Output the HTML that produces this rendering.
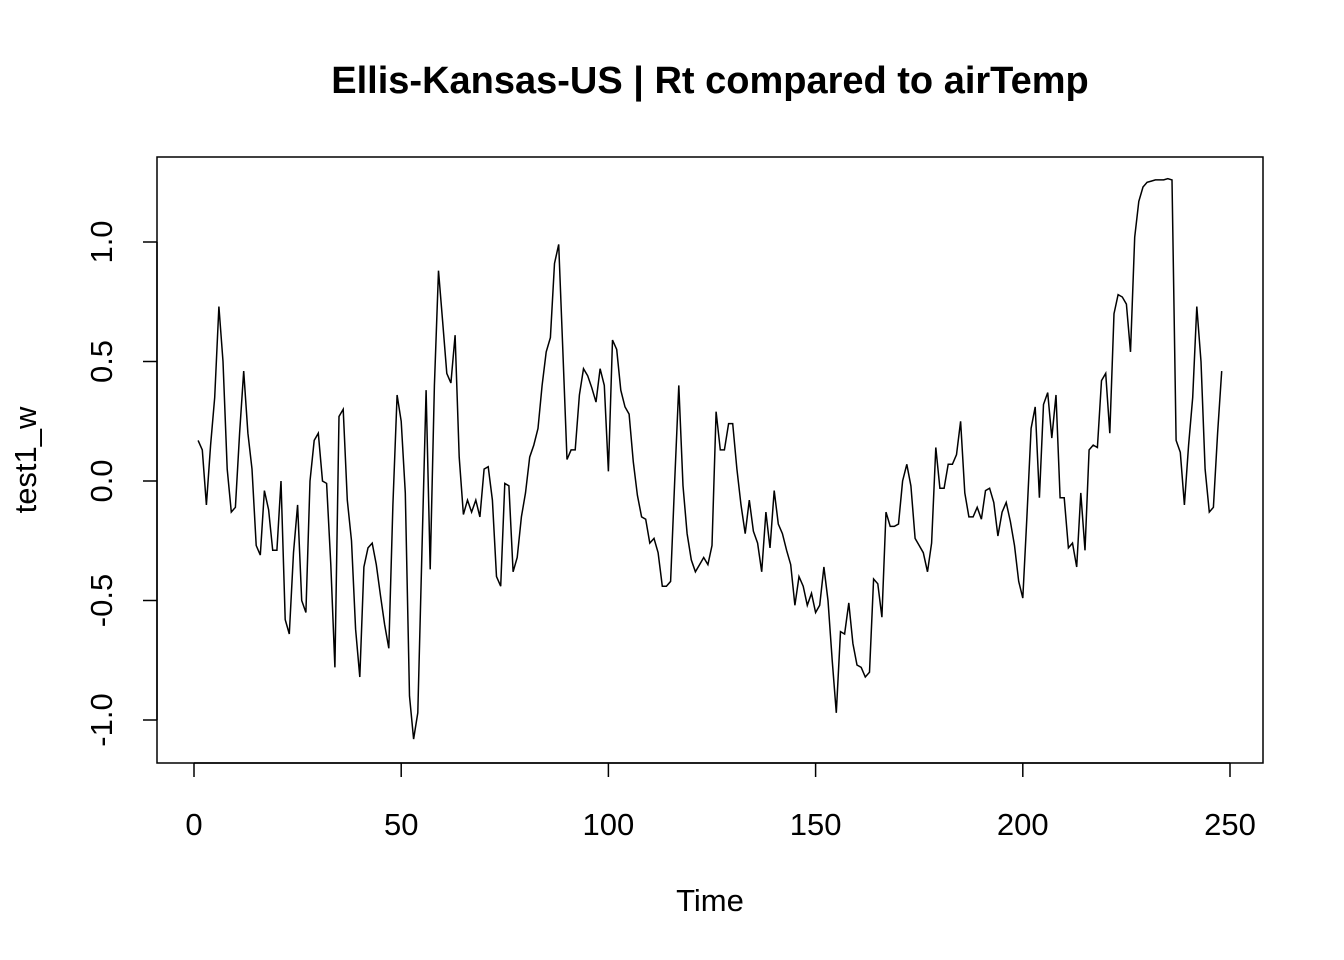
<!DOCTYPE html>
<html><head><meta charset="utf-8"><style>
body{margin:0;background:#fff}
svg{display:block;font-family:"Liberation Sans",Arial,sans-serif}
</style></head><body>
<svg id="chart" width="1344" height="960">
<text x="710" y="93" text-anchor="middle" font-size="38" font-weight="bold">Ellis-Kansas-US | Rt compared to airTemp</text>
<rect x="157" y="157" width="1106" height="606" fill="none" stroke="#000" stroke-width="1.5"/>
<text x="710" y="911" text-anchor="middle" font-size="31">Time</text>
<text transform="translate(36,460) rotate(-90)" text-anchor="middle" font-size="31">test1_w</text>
<g id="axes"></g>
<path id="line" fill="none" stroke="#000" stroke-width="1.5"/>
</svg>
<script>
const xTicks=[0,50,100,150,200,250];
const yTicks=[-1.0,-0.5,0.0,0.5,1.0];
const yTickLabels=["-1.0","-0.5","0.0","0.5","1.0"];
const values=[0.17,0.13,-0.10,0.15,0.35,0.73,0.50,0.05,-0.13,-0.11,0.20,0.46,0.20,0.05,-0.27,-0.31,-0.04,-0.12,-0.29,-0.29,
0.00,-0.58,-0.64,-0.30,-0.10,-0.50,-0.55,0.00,0.17,0.20,0.00,-0.01,-0.35,-0.78,0.27,0.30,-0.08,-0.25,-0.62,-0.82,
-0.36,-0.28,-0.26,-0.35,-0.48,-0.60,-0.70,-0.10,0.36,0.25,-0.05,-0.90,-1.08,-0.97,-0.30,0.38,-0.37,0.40,0.88,0.67,
0.45,0.41,0.61,0.10,-0.14,-0.08,-0.13,-0.08,-0.15,0.05,0.06,-0.08,-0.40,-0.44,-0.01,-0.02,-0.38,-0.32,-0.15,-0.05,
0.10,0.15,0.22,0.40,0.54,0.60,0.91,0.99,0.55,0.09,0.13,0.13,0.36,0.47,0.44,0.39,0.33,0.47,0.40,0.04,
0.59,0.55,0.38,0.31,0.28,0.08,-0.06,-0.15,-0.16,-0.26,-0.24,-0.30,-0.44,-0.44,-0.42,0.00,0.40,-0.02,-0.22,-0.33,
-0.38,-0.35,-0.32,-0.35,-0.27,0.29,0.13,0.13,0.24,0.24,0.05,-0.10,-0.22,-0.08,-0.21,-0.26,-0.38,-0.13,-0.28,-0.04,
-0.18,-0.22,-0.29,-0.35,-0.52,-0.40,-0.44,-0.52,-0.47,-0.55,-0.52,-0.36,-0.50,-0.75,-0.97,-0.63,-0.64,-0.51,-0.68,-0.77,
-0.78,-0.82,-0.80,-0.41,-0.43,-0.57,-0.13,-0.19,-0.19,-0.18,0.00,0.07,-0.02,-0.24,-0.27,-0.30,-0.38,-0.26,0.14,-0.03,
-0.03,0.07,0.07,0.11,0.25,-0.05,-0.15,-0.15,-0.11,-0.16,-0.04,-0.03,-0.09,-0.23,-0.13,-0.09,-0.17,-0.27,-0.42,-0.49,
-0.15,0.22,0.31,-0.07,0.32,0.37,0.18,0.36,-0.07,-0.07,-0.28,-0.26,-0.36,-0.05,-0.29,0.13,0.15,0.14,0.42,0.45,
0.20,0.70,0.78,0.77,0.74,0.54,1.02,1.17,1.23,1.25,1.255,1.26,1.26,1.26,1.265,1.26,0.17,0.12,-0.10,0.15,
0.35,0.73,0.50,0.05,-0.13,-0.11,0.20,0.46];
function X(t){return 194+t*(1230-194)/250;}
function Y(v){return 481-v*239;}
const ns="http://www.w3.org/2000/svg";
const g=document.getElementById('axes');
function mk(tag,attrs,txt){const e=document.createElementNS(ns,tag);for(const k in attrs)e.setAttribute(k,attrs[k]);if(txt!==undefined)e.textContent=txt;g.appendChild(e);return e;}
const xl=mk('line',{x1:X(xTicks[0]),x2:X(xTicks[xTicks.length-1]),y1:763,y2:763,stroke:'#000','stroke-width':1.5});


xTicks.forEach(t=>{
 const l=mk('line',{x1:X(t),x2:X(t),y1:763,y2:777,stroke:'#000','stroke-width':1.5});
 
 
 const tx=mk('text',{x:X(t),y:835,'text-anchor':'middle','font-size':31},String(t));
 
 
});
const yl=mk('line',{x1:157,x2:157,y1:Y(yTicks[0]),y2:Y(yTicks[yTicks.length-1]),stroke:'#000','stroke-width':1.5});


yTicks.forEach((v,i)=>{
 const l=mk('line',{x1:143,x2:157,y1:Y(v),y2:Y(v),stroke:'#000','stroke-width':1.5});
 
 
 const tx=mk('text',{transform:`translate(112,${Y(v)}) rotate(-90)`,'text-anchor':'middle','font-size':31},yTickLabels[i]);
 
 
});
document.getElementById('line').setAttribute('d',values.map((v,i)=>(i?'L':'M')+X(i+1).toFixed(1)+','+Y(v).toFixed(1)).join(''));
</script>
</body></html>
